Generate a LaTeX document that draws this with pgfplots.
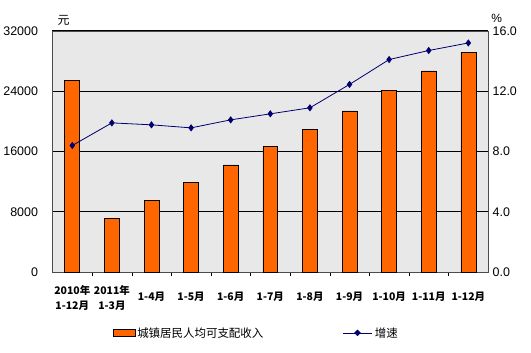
\documentclass[border=0pt]{standalone}
\usepackage{fontspec}
\setmainfont{Liberation Sans}
\newfontfamily\cjk{Noto Sans CJK SC}
\usepackage{pgfplots}
\pgfplotsset{compat=1.18}
\definecolor{barorange}{RGB}{255,102,0}
\definecolor{linenavy}{RGB}{0,0,110}
\definecolor{bggray}{RGB}{232,232,232}
\begin{document}
\begin{tikzpicture}
\begin{axis}[
  name=ax,
  scale only axis,
  width=437pt, height=242pt,
  xmin=-0.5, xmax=10.5,
  ymin=0, ymax=32000,
  ytick={0,8000,16000,24000,32000},
  scaled y ticks=false,
  yticklabel style={/pgf/number format/1000 sep={}, font=\fontsize{12.5}{12.5}\selectfont, xshift=-11pt},
  /pgf/number format/assume math mode=true,
  ymajorgrids, grid style={black, line width=0.8pt},
  axis background/.style={fill=bggray},
  axis line style={black!70},
  xtick={0,...,10},
  xticklabels={{2010年\\1-12月},{2011年\\1-3月},{\mbox{}\\1-4月},{\mbox{}\\1-5月},{\mbox{}\\1-6月},{\mbox{}\\1-7月},{\mbox{}\\1-8月},{\mbox{}\\1-9月},{\mbox{}\\1-10月},{\mbox{}\\1-11月},{\mbox{}\\1-12月}},
  xticklabel style={align=center, font=\cjk\bfseries\fontsize{10.5}{15}\selectfont, yshift=-10pt},
  major x tick style={draw=none},
  minor xtick={0.5,1.5,...,9.5},
  minor x tick style={black},
  minor tick length=4pt,
  xtick pos=bottom,
  ytick pos=left,
  major tick length=0pt,
  ybar, bar width=15pt,
]
\addplot[fill=barorange, draw=black, line width=0.6pt] coordinates {
(0,25400) (1,7100) (2,9480) (3,11860) (4,14240) (5,16660) (6,18900) (7,21380) (8,24100) (9,26700) (10,29200)};
\end{axis}
\begin{axis}[
  scale only axis,
  width=437pt, height=242pt,
  xmin=-0.5, xmax=10.5,
  ymin=0, ymax=16,
  ytick={0,4,8,12,16},
  axis y line*=right,
  axis x line=none,
  axis line style={black!70},
  major tick length=0pt,
  /pgf/number format/assume math mode=true,
  yticklabel style={/pgf/number format/.cd, fixed, fixed zerofill, precision=1, /tikz/.cd, font=\fontsize{12.5}{12.5}\selectfont, xshift=1pt},
  legend style={draw=none, fill=none, at={(0.468,-0.252)}, anchor=center, font=\cjk\fontsize{11.5}{12}\selectfont, legend columns=2, /tikz/every even column/.append style={column sep=77pt}},
]
\addlegendimage{legend image code/.code={\draw[fill=barorange, draw=black] (0pt,-3.5pt) rectangle (22pt,3.5pt);}}
\addlegendentry{城镇居民人均可支配收入}
\addplot[color=linenavy, line width=0.8pt, mark=diamond*, mark size=3pt, mark options={fill=linenavy}, forget plot] coordinates {
(0,8.4) (1,9.9) (2,9.77) (3,9.57) (4,10.1) (5,10.5) (6,10.9) (7,12.45) (8,14.1) (9,14.7) (10,15.2)};
\addlegendimage{legend image code/.code={\draw[linenavy, line width=0.8pt] (0pt,0pt) -- (30pt,0pt); \fill[linenavy] (15pt,3pt) -- (18pt,0pt) -- (15pt,-3pt) -- (12pt,0pt) -- cycle;}}
\addlegendentry{增速}
\end{axis}
\node[anchor=south west, font=\cjk\fontsize{12}{12}\selectfont, inner sep=0pt] at ([xshift=5pt,yshift=5pt]ax.north west) {元};
\node[anchor=south west, font=\fontsize{12}{12}\selectfont, inner sep=0pt] at ([xshift=3pt,yshift=8pt]ax.north east) {\%};
\path[use as bounding box] ([xshift=-51pt,yshift=-81pt]ax.south west) rectangle ([xshift=43pt,yshift=31pt]ax.north east);
\end{tikzpicture}
\end{document}
